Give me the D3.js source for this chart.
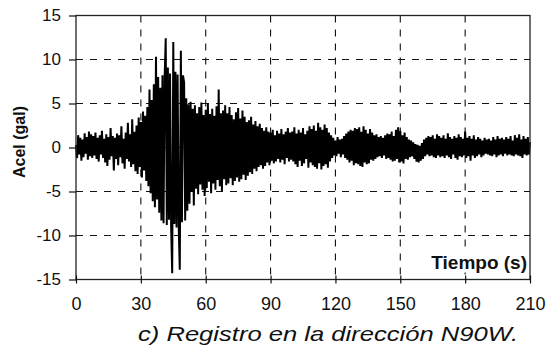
<!DOCTYPE html>
<html>
<head>
<meta charset="utf-8">
<script src="https://cdn.jsdelivr.net/npm/d3@7"></script>
<style>
html,body{margin:0;padding:0;background:#fff;}
svg{display:block;}
text{font-family:"Liberation Sans",Arial,Helvetica,sans-serif;fill:#111;}
</style>
</head>
<body>
<svg id="chart" width="549" height="353"></svg>
<script>
// ---- data ----
const xTicks = [0, 30, 60, 90, 120, 150, 180, 210];
const yTicks = [-15, -10, -5, 0, 5, 10, 15];
const xLabel = "Tiempo (s)";
const yLabel = "Acel (gal)";
const caption = "c)  Registro en la dirección N90W.";
const dt = 0.5; // seconds between samples
// acceleration (gal), read from the record, one value every 0.5 s
const accel = [
  // 0-10 s
  0.3,-1.2,1.4,-0.8,1.1,-1.5,0.9,-1.1,1.6,-0.7,1.2,-1.4,1.8,-1.0,1.5,-1.2,1.3,-0.9,1.7,-1.3,
  // 10-20 s
  1.1,-1.6,1.4,-0.8,1.9,-1.2,1.0,-1.7,1.5,-2.1,1.2,-1.4,2.2,-1.0,1.3,-2.6,1.1,-1.3,1.6,-2.0,
  // 20-30 s
  1.4,-1.1,2.4,-1.8,1.0,-2.4,1.7,-1.3,2.8,-1.6,1.5,-2.2,3.2,-1.9,1.8,-2.7,2.5,-3.0,3.4,-2.2,
  // 30-40 s
  2.9,-3.4,4.1,-2.6,3.6,-3.8,4.6,-4.4,6.6,-5.2,5.4,-6.1,7.2,-6.8,10.3,-5.9,8.0,-7.4,6.8,-8.3,
  // 40-50 s
  8.2,-8.6,7.9,12.4,-8.8,9.1,-8.2,8.4,-9.0,-14.3,12.0,-8.7,8.6,-9.1,8.3,-8.8,-13.9,11.0,-8.5,8.2,
  // 50-60 s
  7.4,-8.3,5.6,-7.2,4.9,-6.4,5.2,-5.0,4.4,-6.6,4.8,-4.7,3.9,-5.3,4.6,-4.2,5.1,-4.8,3.7,-5.5,
  // 60-70 s
  4.3,-4.6,5.0,-3.9,3.8,-5.2,4.4,-4.1,3.6,-4.8,4.7,-3.7,6.6,-4.4,3.9,-5.0,4.2,-3.6,4.8,-4.3,
  // 70-80 s
  3.9,-4.1,4.6,-3.5,3.7,-4.3,3.2,-3.8,4.0,-3.4,4.5,-3.9,3.3,-3.6,4.2,-3.1,3.5,-3.7,2.9,-3.2,
  // 80-90 s
  3.1,-2.8,3.5,-3.0,2.6,-2.4,3.0,-2.7,2.4,-2.2,2.7,-2.0,2.2,-2.4,1.9,-2.1,2.3,-1.7,1.8,-2.0,
  // 90-100 s
  1.7,-1.5,2.0,-1.8,1.4,-1.6,1.9,-1.3,1.6,-1.7,2.1,-1.4,1.5,-1.9,1.8,-1.2,2.2,-1.6,1.7,-1.4,
  // 100-110 s
  1.8,-1.6,2.3,-1.9,1.6,-2.2,2.0,-1.5,1.7,-2.1,2.2,-1.8,1.5,-1.3,1.9,-2.3,2.4,-1.7,2.1,-2.0,
  // 110-120 s
  2.5,-2.2,1.9,-2.4,2.8,-1.8,2.3,-2.5,2.0,-2.1,2.6,-1.9,2.2,-2.3,1.7,-1.6,1.4,-1.2,1.1,-0.9,
  // 120-130 s
  0.8,-1.0,1.2,-0.7,0.9,-1.1,1.0,-0.8,1.3,-1.2,1.6,-1.4,1.8,-1.7,2.0,-1.5,1.9,-2.0,2.2,-1.8,
  // 130-140 s
  2.1,-1.9,2.3,-2.1,1.8,-2.2,2.4,-1.7,2.0,-1.9,1.6,-1.8,2.1,-1.4,1.7,-1.5,1.4,-1.3,1.5,-1.1,
  // 140-150 s
  1.2,-1.0,1.3,-1.2,1.1,-0.9,1.4,-1.3,1.6,-1.2,1.5,-1.4,1.8,-1.6,1.3,-1.5,2.0,-1.3,2.3,-1.7,
  // 150-160 s
  1.9,-1.6,1.4,-1.8,1.7,-1.3,1.2,-1.4,0.9,-1.1,0.8,-1.0,0.6,-1.3,0.4,-1.6,0.3,-1.7,0.2,-1.5,
  // 160-170 s
  0.5,-1.3,0.9,-1.0,1.1,-0.8,1.3,-1.0,1.2,-0.9,1.4,-1.1,1.0,-1.2,1.5,-0.9,1.3,-1.1,1.1,-1.0,
  // 170-180 s
  1.4,-1.2,1.0,-0.9,1.6,-1.1,1.2,-1.3,1.0,-0.8,1.3,-1.2,1.1,-1.4,1.5,-1.0,1.2,-1.1,1.0,-0.9,
  // 180-190 s
  1.8,-1.2,1.1,-1.0,1.3,-1.5,1.0,-0.9,1.4,-1.2,0.9,-1.0,1.2,-0.8,1.0,-1.1,0.8,-0.9,1.1,-0.7,
  // 190-200 s
  0.9,-0.8,1.0,-0.9,0.8,-1.0,1.2,-0.8,0.9,-1.1,1.3,-0.9,1.0,-0.8,1.1,-1.0,0.9,-0.7,1.2,-0.9,
  // 200-210 s
  1.0,-0.8,1.3,-0.9,0.8,-1.0,1.4,-0.8,1.1,-0.9,1.5,-1.0,0.9,-1.2,1.3,-0.8,1.0,-0.9,1.2,-0.8,0.6
];

// ---- layout ----
const W = 549, H = 353;
const m = {left: 76, right: 19, top: 15.5, bottom: 73.5};
const iw = W - m.left - m.right, ih = H - m.top - m.bottom;

const svg = d3.select("#chart");
const g = svg.append("g").attr("transform", `translate(${m.left},${m.top})`);

const x = d3.scaleLinear().domain([0, 210]).range([0, iw]);
const y = d3.scaleLinear().domain([-15, 15]).range([ih, 0]);

// grid
const grid = g.append("g").attr("stroke", "#111").attr("stroke-width", 1.1)
  .attr("stroke-dasharray", "7,7").attr("fill", "none");
grid.selectAll("line.v").data(xTicks.filter(d => d > 0 && d < 210)).enter().append("line")
  .attr("x1", d => x(d)).attr("x2", d => x(d)).attr("y1", 0).attr("y2", ih);
grid.selectAll("line.h").data(yTicks.filter(d => d > -15 && d < 15)).enter().append("line")
  .attr("x1", 0).attr("x2", iw).attr("y1", d => y(d)).attr("y2", d => y(d));

// signal
const line = d3.line().x((d, i) => x(i * dt)).y(d => y(d));
g.append("path").datum(accel).attr("d", line)
  .attr("fill", "none").attr("stroke", "#000").attr("stroke-width", 2)
  .attr("stroke-linejoin", "bevel");

// frame
g.append("rect").attr("x", 0).attr("y", 0).attr("width", iw).attr("height", ih)
  .attr("fill", "none").attr("stroke", "#222").attr("stroke-width", 1.3);

const fmt = d => String(d);

// x axis
const xAxis = d3.axisBottom(x).tickValues(xTicks).tickSize(4).tickPadding(14).tickFormat(fmt);
const gx = g.append("g").attr("transform", `translate(0,${ih})`).call(xAxis);
gx.select(".domain").remove();
gx.selectAll(".tick line").attr("y1", -4).attr("stroke", "#111").attr("stroke-width", 1.2);
gx.selectAll(".tick text").attr("font-size", 18).attr("fill", "#111")
  .attr("font-family", "Liberation Sans, Arial, sans-serif");

// y axis
const yAxis = d3.axisLeft(y).tickValues(yTicks).tickSize(7).tickPadding(8).tickFormat(fmt);
const gy = g.append("g").call(yAxis);
gy.select(".domain").remove();
gy.selectAll(".tick line").attr("stroke", "#111").attr("stroke-width", 1.2);
gy.selectAll(".tick text").attr("font-size", 17).attr("fill", "#111")
  .attr("font-family", "Liberation Sans, Arial, sans-serif");

// x label with white background
const xlg = g.append("g");
const bgRect = xlg.append("rect").attr("fill", "#fff");
const xl = xlg.append("text").attr("x", iw - 3).attr("y", ih - 11)
  .attr("text-anchor", "end").attr("font-weight", "bold").attr("font-size", 19)
  .text(xLabel);
const bb = xl.node().getBBox();
bgRect.attr("x", bb.x - 3).attr("y", bb.y - 1)
  .attr("width", bb.width + 3).attr("height", bb.height + 1);

// y label
svg.append("text").attr("transform", `translate(25,142) rotate(-90)`)
  .attr("text-anchor", "middle").attr("font-weight", "bold").attr("font-size", 16)
  .text(yLabel);

// caption
svg.append("text").attr("x", 328).attr("y", 341).attr("text-anchor", "middle")
  .attr("font-style", "italic").attr("font-size", 21)
  .attr("textLength", 380).attr("lengthAdjust", "spacingAndGlyphs")
  .text(caption);
</script>
</body>
</html>
